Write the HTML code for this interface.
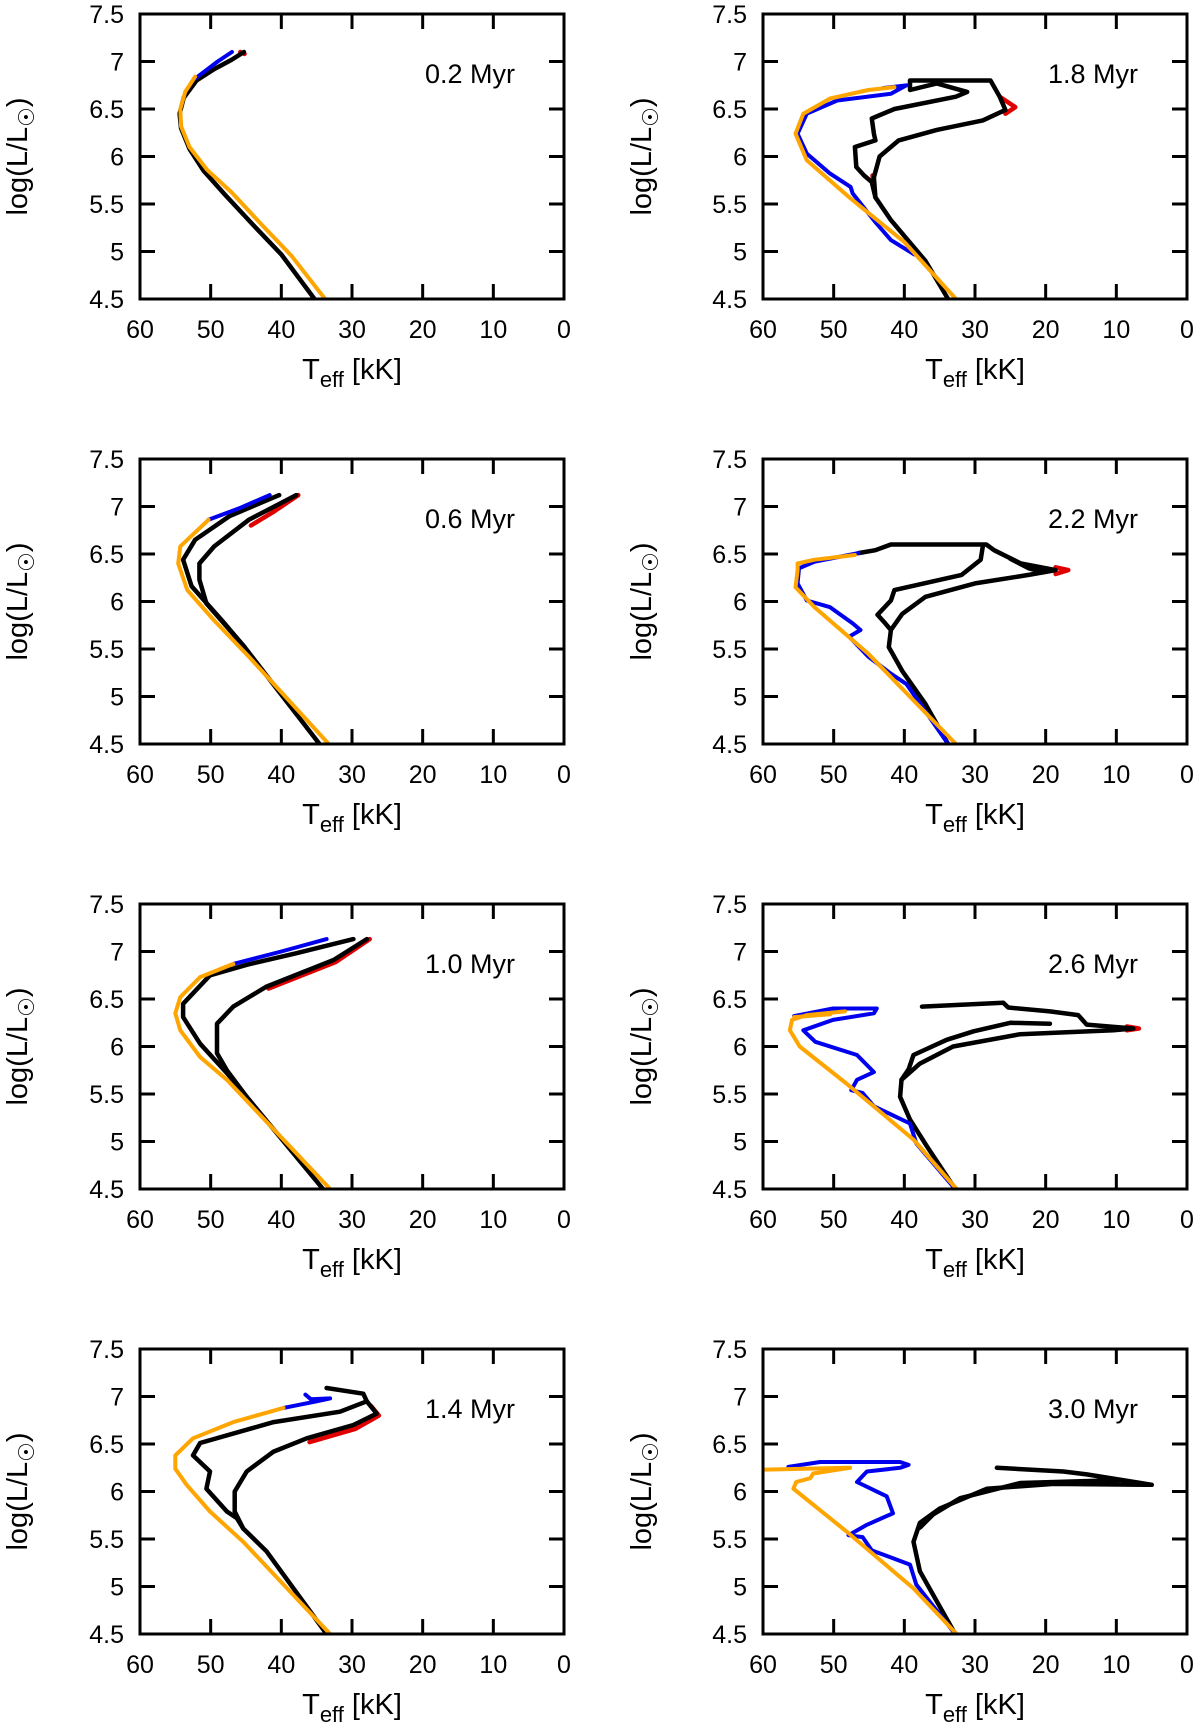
<!DOCTYPE html>
<html><head><meta charset="utf-8"><style>
html,body{margin:0;padding:0;background:#fff}
svg{display:block;font-family:"Liberation Sans",sans-serif}
</style></head><body>
<svg id="fig" width="1200" height="1725" viewBox="0 0 1200 1725"></svg>
<script>
// ---------- data: [Teff kK, log L] ----------
const panelLabels=["0.2 Myr","1.8 Myr","0.6 Myr","2.2 Myr","1.0 Myr","2.6 Myr","1.4 Myr","3.0 Myr"];
const xTicks=[60,50,40,30,20,10,0];
const yTicks=[7.5,7,6.5,6,5.5,5,4.5];

// 0.2 Myr
const p0Black=[[[45.3,7.1],[47,7.02],[49.5,6.92],[52,6.8],[53.8,6.62],[54.4,6.45],[54.2,6.3],[53,6.08],[51,5.85],[48,5.6],[44,5.28],[40,4.97],[35.3,4.5]]];
const p0Blue=[[[47,7.1],[49,7.0],[51.5,6.86],[52.2,6.82]]];
const p0Orange=[[[52.2,6.84],[53.6,6.68],[54.3,6.5],[54.2,6.32],[53,6.1],[50.5,5.86],[47,5.62],[43,5.3],[38.5,4.95],[33.8,4.5]]];
const p0Red=[[[45.8,7.1],[45.2,7.08]]];
// 1.8 Myr
const p1Black=[
 [[39.2,6.72],[39.2,6.80],[27.8,6.80],[26.5,6.63],[25.7,6.49],[28.9,6.38],[35.4,6.28],[40.8,6.17],[43.5,6.0],[44.3,5.78],[44.1,5.57],[41.9,5.33],[37.0,4.9],[33.8,4.5]],
 [[39.2,6.70],[35.4,6.77],[31.1,6.68],[32.7,6.63],[41.4,6.5],[44.6,6.4],[44.3,6.24],[44.1,6.17],[47.0,6.10],[46.8,5.89],[45.7,5.8],[44.6,5.73],[44.1,5.57]]];
const p1Blue=[[[43,6.72],[39.7,6.75],[41.9,6.66],[49.5,6.59],[53.8,6.45],[55.1,6.24],[53.8,6.03],[50.5,5.82],[47.6,5.68],[47.3,5.61],[44,5.3],[41.9,5.12],[38.6,4.97]]];
const p1Orange=[[[41.4,6.73],[45.1,6.70],[50.5,6.61],[54.3,6.45],[55.4,6.24],[53.8,5.96],[47.8,5.57],[40,5.1],[32.7,4.5]]];
const p1Red=[[[26.5,6.63],[24.3,6.52],[25.7,6.45]],[[44.5,5.8],[44.3,5.72]]];
// 0.6 Myr
const p2Black=[
 [[40.3,7.12],[47.3,6.9],[52.2,6.65],[53.9,6.44],[52.7,6.16],[48.4,5.8],[45.2,5.52],[34.6,4.5]],
 [[37.9,7.12],[44.6,6.86],[49.5,6.58],[51.6,6.40],[51.6,6.23],[50.6,5.98],[47.3,5.70],[45.2,5.52]]];
const p2Blue=[[[41.65,7.12],[46,6.98],[50.3,6.86]]];
const p2Orange=[[[50.3,6.86],[54.3,6.58],[54.6,6.40],[53.3,6.12],[49.5,5.8],[44.6,5.42],[33.3,4.5]]];
const p2Red=[[[37.6,7.12],[41,6.95],[44.3,6.8]]];
// 2.2 Myr
const p3Black=[
 [[46.5,6.51],[44.1,6.54],[41.9,6.6],[28.4,6.6],[27.3,6.54],[23.5,6.40],[18.6,6.33],[22.4,6.28],[30.0,6.19],[37.0,6.05],[40.3,5.87],[41.9,5.70],[42.2,5.52],[40.3,5.27],[37.0,4.92],[33.8,4.5]],
 [[28.9,6.58],[29.2,6.44],[31.9,6.28],[41.4,6.12],[41.9,6.01],[43.8,5.86],[42.7,5.77],[41.9,5.70]],
 [[20.3,6.31],[22.4,6.35],[25,6.45]]];
const p3Blue=[[[46.5,6.51],[52.7,6.42],[54.9,6.35],[55.1,6.19],[53.8,6.01],[50.5,5.94],[47.3,5.77],[46.2,5.70],[47.8,5.63],[45.1,5.42],[41.9,5.24],[39.7,5.13],[33.8,4.5]]];
const p3Orange=[[[47.0,6.49],[52.7,6.44],[55.1,6.40],[55.1,6.33],[55.4,6.15],[52.7,5.94],[45.1,5.45],[32.7,4.5]]];
const p3Red=[[[18.6,6.36],[16.8,6.33],[18.6,6.29]]];
// 1.0 Myr
const p4Black=[
 [[29.8,7.13],[38,6.98],[44.9,6.86],[50.1,6.75],[53.9,6.45],[53.9,6.31],[51.5,6.03],[47.7,5.72],[44.9,5.47],[34.1,4.5]],
 [[27.9,7.13],[32.6,6.91],[42.1,6.63],[46.8,6.42],[49.1,6.24],[49.1,5.93],[47.7,5.75],[44.9,5.47]]];
const p4Blue=[[[46.8,6.87],[40,7.0],[33.6,7.13]]];
const p4Orange=[[[46.8,6.87],[51.5,6.73],[54.3,6.52],[55.0,6.35],[54.3,6.17],[51.5,5.89],[47.7,5.65],[33.1,4.5]]];
const p4Red=[[[27.5,7.13],[32.3,6.89],[41.8,6.61]]];
// 2.6 Myr
const p5Black=[
 [[37.5,6.42],[26.0,6.46],[25.3,6.41],[19.4,6.37],[15.4,6.33],[14.2,6.23],[7.6,6.19],[10.4,6.17],[23.6,6.13],[33.1,6.0],[37.8,5.82],[40.4,5.65],[40.6,5.47],[39.2,5.23],[36.8,4.95],[32.8,4.5]],
 [[19.4,6.24],[25.0,6.25],[30.2,6.16],[34.0,6.07],[38.7,5.91],[39.4,5.76],[40.4,5.65]]];
const p5Blue=[[[55.6,6.32],[50.1,6.40],[43.9,6.40],[44.3,6.35],[50.1,6.28],[54.3,6.17],[52.6,6.05],[46.7,5.91],[44.3,5.73],[46.7,5.65],[47.5,5.54],[45.9,5.51],[44.3,5.37],[39.2,5.19],[38.3,4.98],[32.8,4.5]]];
const p5Orange=[[[48.4,6.37],[53.8,6.33],[55.9,6.28],[56.2,6.17],[54.8,6.0],[48.2,5.61],[38.7,5.02],[32.6,4.5]],[[55.6,6.31],[50.5,6.34]]];
const p5Red=[[[8.5,6.21],[6.8,6.19],[8.5,6.17]]];
// 1.4 Myr
const p6Black=[
 [[33.6,7.09],[28.4,7.03],[27.9,6.95],[31.7,6.84],[41.1,6.73],[51.5,6.51],[52.5,6.38],[50.1,6.21],[50.6,6.03],[47.7,5.79],[46.3,5.72]],
 [[27.9,6.95],[26.5,6.82],[29.8,6.70],[36.4,6.56],[41.1,6.42],[44.9,6.21],[46.6,6.0],[46.6,5.79],[45.4,5.61],[42.1,5.37],[33.6,4.5]],
 [[46.3,5.72],[45.4,5.61]]];
const p6Blue=[[[39.7,6.88],[35,6.95],[33.1,6.98],[35.8,6.97],[36.6,7.02]]];
const p6Orange=[[[39.7,6.88],[46.8,6.73],[52.5,6.56],[55.0,6.38],[55.0,6.24],[53.4,6.07],[50.1,5.79],[45.4,5.47],[33.1,4.5]]];
const p6Red=[[[27.3,6.9],[26.2,6.8],[29.5,6.66],[36,6.52]]];
// 3.0 Myr
const p7Black=[
 [[26.9,6.25],[17.5,6.21],[14.2,6.18],[5,6.07],[18.9,6.08],[28.3,6.03],[35.0,5.82],[37.8,5.67],[38.7,5.47],[37.8,5.16],[32.8,4.5]],
 [[9.5,6.12],[23.6,6.09],[32.1,5.93],[35.9,5.76],[37.8,5.62]]];
const p7Blue=[[[56.4,6.26],[51.9,6.31],[40.6,6.31],[39.4,6.28],[40.6,6.25],[45.3,6.21],[46.7,6.10],[42.5,5.95],[41.6,5.77],[45.3,5.65],[47.9,5.54],[45.9,5.52],[44.6,5.38],[39.2,5.23],[38.3,5.02],[32.8,4.5]]];
const p7Orange=[[[47.7,6.25],[59.7,6.23]],[[47.7,6.25],[52.9,6.19],[53.3,6.14],[55.3,6.10],[55.7,6.03],[48.2,5.58],[38.7,4.98],[32.6,4.5]]];
const p7Red=[[[6,6.08],[5,6.07]]];

const panelData=[
 [p0Red,p0Black,p0Blue,p0Orange],[p1Red,p1Black,p1Blue,p1Orange],
 [p2Red,p2Black,p2Blue,p2Orange],[p3Red,p3Black,p3Blue,p3Orange],
 [p4Red,p4Black,p4Blue,p4Orange],[p5Red,p5Black,p5Blue,p5Orange],
 [p6Red,p6Black,p6Blue,p6Orange],[p7Red,p7Black,p7Blue,p7Orange]];
const seriesNames=["red-track","black-track","blue-track","orange-track"];
const seriesColors=["#e00000","#000000","#0000ee","#ffa500"];
const seriesWidths=[4.5,4.5,4,4];

// ---------- drawing ----------
const NS="http://www.w3.org/2000/svg";
const svg=document.getElementById('fig');
const W=424,H=285;
const colX=[140,763], rowY=[14,459,904,1349];
function mk(tag,attrs,parent){const e=document.createElementNS(NS,tag);for(const k in attrs)e.setAttribute(k,attrs[k]);parent.appendChild(e);return e;}

panelData.forEach((series,i)=>{
  const bx=colX[i%2], by=rowY[Math.floor(i/2)];
  const xs=t=>bx+(60-t)/60*W;
  const ys=l=>by+(7.5-l)/3*H;
  const g=mk('g',{},svg);
  
  
  const clip=mk('clipPath',{id:'c'+i},g);
  mk('rect',{x:bx,y:by,width:W,height:H},clip);
  const plot=mk('g',{'clip-path':'url(#c'+i+')'},g);
  series.forEach((lines,s)=>{
    lines.forEach(pts=>{
      const p=mk('polyline',{points:pts.map(q=>xs(q[0]).toFixed(1)+','+ys(q[1]).toFixed(1)).join(' '),fill:'none',stroke:seriesColors[s],'stroke-width':seriesWidths[s],'stroke-linejoin':'round','stroke-linecap':'round'},plot);
      
      
    });
  });
  xTicks.forEach(t=>{
    const x=xs(t);
    if(t!==60&&t!==0){mk('line',{x1:x,y1:by+H,x2:x,y2:by+H-15,stroke:'#000','stroke-width':3},g);mk('line',{x1:x,y1:by,x2:x,y2:by+15,stroke:'#000','stroke-width':3},g);}
    const tl=mk('text',{x:x,y:by+H+39,'font-size':25,'text-anchor':'middle',fill:'#000'},g);
    tl.textContent=t;
    
    
  });
  yTicks.forEach(l=>{
    const y=ys(l);
    if(l!==7.5&&l!==4.5){mk('line',{x1:bx,y1:y,x2:bx+15,y2:y,stroke:'#000','stroke-width':3},g);mk('line',{x1:bx+W,y1:y,x2:bx+W-15,y2:y,stroke:'#000','stroke-width':3},g);}
    const tl=mk('text',{x:bx-16,y:y+9,'font-size':25,'text-anchor':'end',fill:'#000'},g);
    tl.textContent=l;
    
    
  });
  const frame=mk('rect',{x:bx,y:by,width:W,height:H,fill:'none',stroke:'#000','stroke-width':3},g);
  
  
  const lab=mk('text',{x:bx+285,y:by+69,'font-size':27,fill:'#000'},g);
  lab.textContent=panelLabels[i];
  
  
  const xt=mk('text',{x:bx+W/2,y:by+H+80,'font-size':29,'text-anchor':'middle',fill:'#000'},g);
  xt.innerHTML='T<tspan font-size="22" dy="8">eff</tspan><tspan dy="-8"> [kK]</tspan>';
  
  
  const yx=(i%2===0)?27:651, yy=by+H/2;
  const yt=mk('text',{x:yx,y:yy,'font-size':29,'text-anchor':'middle',fill:'#000',transform:'rotate(-90 '+yx+' '+yy+')'},g);
  yt.innerHTML='log(L/L<tspan font-size="22" dy="7">☉</tspan><tspan dy="-7">)</tspan>';
  
  
});
</script>
</body></html>
